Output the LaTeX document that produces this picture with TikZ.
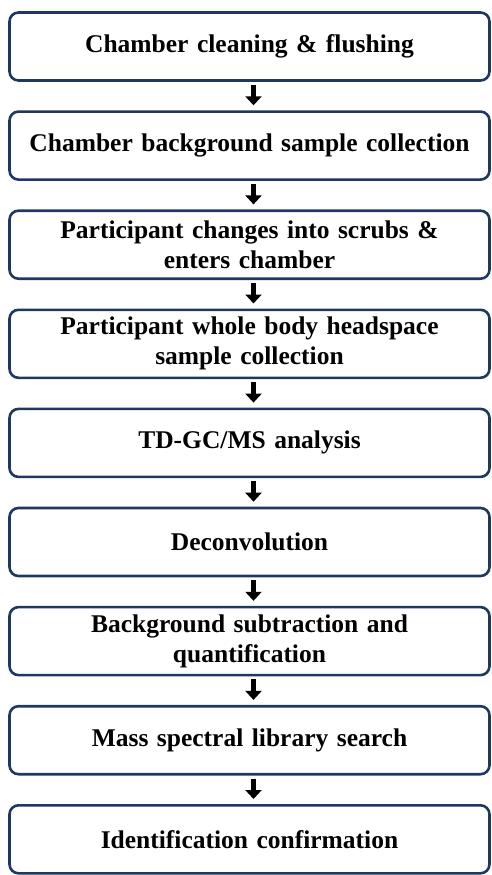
\documentclass[tikz,border=0pt]{standalone}
\usepackage{fontspec}
\setmainfont{Liberation Serif}
\usetikzlibrary{arrows.meta}
\definecolor{boxblue}{RGB}{30,56,96}

\begin{document}
\begin{tikzpicture}[x=1pt, y=1pt,
    stepbox/.style = {draw = boxblue, line width = 2.6pt, rounded corners = 9pt,
        minimum width = 480pt, minimum height = 68pt, text width = 466pt,
        align = center, inner ysep = 2pt, font = \fontsize{25.5}{30}\selectfont\bfseries},
    flow/.style = {line width = 5pt, -{Triangle[width = 16pt, length = 9pt]}}]

    \useasboundingbox (0,0) rectangle (491,-875);

    \foreach \i/\t in {1/{Chamber cleaning \& flushing},
                       2/{Chamber background sample collection},
                       3/{Participant changes into scrubs \&\\ enters chamber},
                       4/{Participant whole body headspace\\ sample collection},
                       5/{TD-GC/MS analysis},
                       6/{Deconvolution},
                       7/{Background subtraction and\\ quantification},
                       8/{Mass spectral library search},
                       9/{Identification confirmation}}{
    \node[stepbox] (s\i) at (249.5,{-46.5-99.1*(\i-1)}) {\t};
}

    \foreach \i/\j in {1/2,2/3,3/4,4/5,5/6,6/7,7/8,8/9}{
    \draw[flow] ([xshift=4pt, yshift=-3pt]s\i.south) -- ([xshift=4pt, yshift=5pt]s\j.north);
}

\end{tikzpicture}
\end{document}
